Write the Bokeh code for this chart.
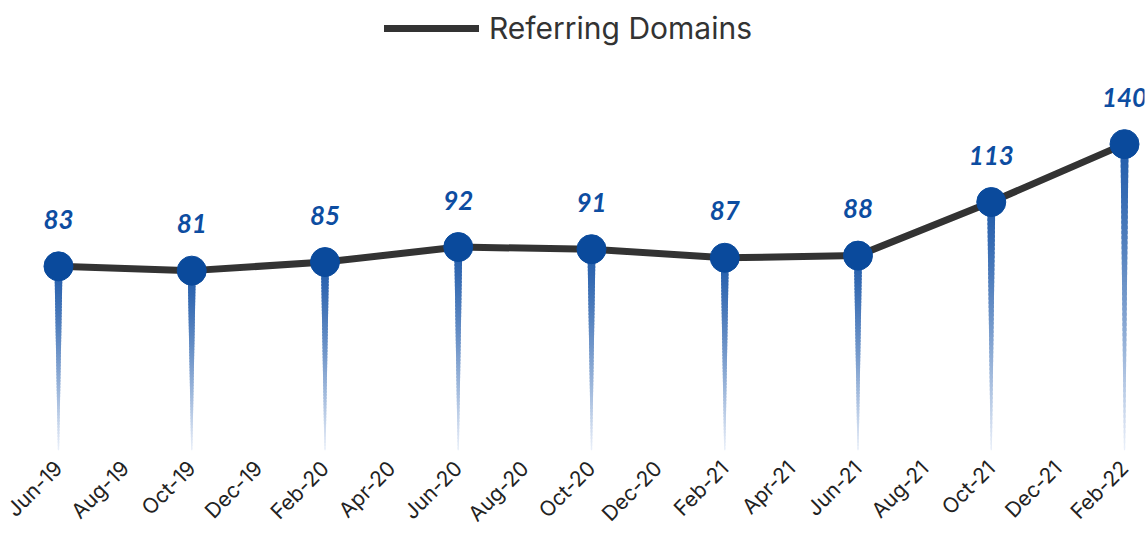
from bokeh.plotting import figure
from bokeh.models import Range1d, FixedTicker, ColumnDataSource, Legend, LegendItem
from bokeh.embed import file_html
from bokeh.resources import INLINE
from bokeh.core.properties import value
import math

# ---- data ----
tick_labels = ["Jun-19", "Aug-19", "Oct-19", "Dec-19", "Feb-20", "Apr-20", "Jun-20", "Aug-20",
               "Oct-20", "Dec-20", "Feb-21", "Apr-21", "Jun-21", "Aug-21", "Oct-21", "Dec-21", "Feb-22"]
point_months = ["Jun-19", "Oct-19", "Feb-20", "Jun-20", "Oct-20", "Feb-21", "Jun-21", "Oct-21", "Feb-22"]
domains = [83, 81, 85, 92, 91, 87, 88, 113, 140]

YMIN, YMAX = -2.9, 207

xs = [tick_labels.index(m) for m in point_months]

p = figure(width=1148, height=538, output_backend="svg", toolbar_location=None,
           x_range=Range1d(-0.3, 16.3), y_range=Range1d(YMIN, YMAX),
           min_border_left=38, min_border_right=4, min_border_top=0, min_border_bottom=0)
p.outline_line_color = None
p.xgrid.visible = False
p.ygrid.visible = False
p.yaxis.visible = False
p.background_fill_color = "white"
p.border_fill_color = "white"

# ---- gradient tapered spikes ----
N = 60
top_rgb = (36, 94, 172)
bot_rgb = (236, 241, 250)
sx0, sy0, sx1, sy1, sw, sc = [], [], [], [], [], []
for x, v in zip(xs, domains):
    for k in range(N):
        t0 = k / N
        t1 = min((k + 1.6) / N, 1.0)
        tm = (k + 0.5) / N
        sx0.append(x); sx1.append(x)
        sy0.append(v - t0 * (v - YMIN))
        sy1.append(v - t1 * (v - YMIN))
        sw.append(8.0 * (1 - tm) + 1.2 * tm)
        f = tm ** 1.3
        r = int(top_rgb[0] + (bot_rgb[0] - top_rgb[0]) * f)
        g = int(top_rgb[1] + (bot_rgb[1] - top_rgb[1]) * f)
        b = int(top_rgb[2] + (bot_rgb[2] - top_rgb[2]) * f)
        sc.append("#%02x%02x%02x" % (r, g, b))
spk = ColumnDataSource(dict(x0=sx0, y0=sy0, x1=sx1, y1=sy1, w=sw, c=sc))
p.segment("x0", "y0", "x1", "y1", source=spk, line_width="w", line_color="c", line_cap="butt")

src = ColumnDataSource(dict(x=xs, y=domains, lab=[str(v) for v in domains]))
line = p.line("x", "y", source=src, line_color="#333333", line_width=7, line_join="round", line_cap="round")
p.scatter("x", "y", source=src, size=29, fill_color="#0a4a9c", line_color="#0a4a9c")
p.text("x", "y", text="lab", source=src, text_align="center", text_baseline="alphabetic",
       y_offset=-47, text_font=value("Lato"), text_font_style="bold italic",
       text_font_size="26px", text_color="#0d4da1")

# ---- x axis ----
p.xaxis.ticker = FixedTicker(ticks=list(range(len(tick_labels))))
p.xaxis.major_label_overrides = {i: t for i, t in enumerate(tick_labels)}
p.xaxis.major_label_orientation = math.pi / 4
p.xaxis.axis_line_color = None
p.xaxis.major_tick_line_color = None
p.xaxis.minor_tick_line_color = None
p.xaxis.major_label_standoff = 8
p.xaxis.major_label_text_font = "Inter"
p.xaxis.major_label_text_font_size = "21px"
p.xaxis.major_label_text_color = "#222222"

# ---- legend ----
legend = Legend(items=[LegendItem(label="Referring Domains", renderers=[line])],
                location=(346, 404), orientation="horizontal",
                label_text_font="Inter", label_text_font_size="30px", label_text_color="#333333",
                glyph_width=95, glyph_height=30, border_line_color=None,
                background_fill_alpha=0, margin=0, padding=4, label_standoff=10)
p.add_layout(legend)

open("out.html", "w").write(file_html(p, INLINE))
